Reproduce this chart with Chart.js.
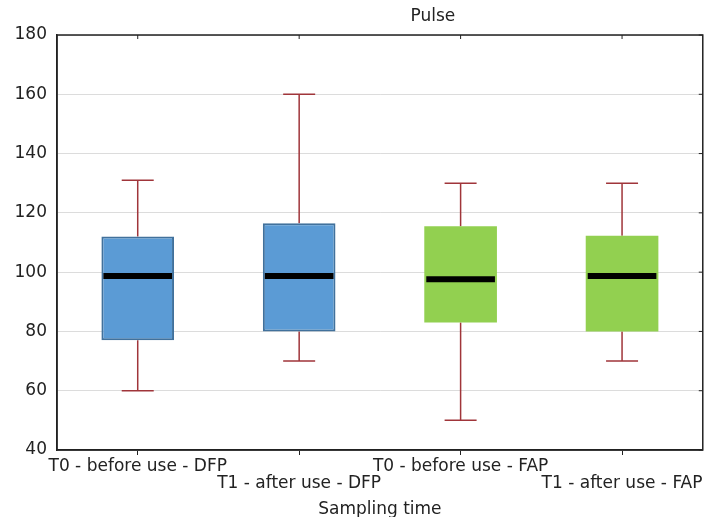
<!DOCTYPE html>
<html>
<head>
<meta charset="utf-8">
<script src="https://cdn.jsdelivr.net/npm/chart.js@4.4.0/dist/chart.umd.min.js"></script>
<style>
  body { margin: 0; background: #fff; }
</style>
</head>
<body>
<canvas id="myChart" width="707" height="517"></canvas>
<script>
'use strict';

const categories = ['T0 - before use - DFP', 'T1 - after use - DFP', 'T0 - before use - FAP', 'T1 - after use - FAP'];
const mins = [60, 70, 50, 70];
const q1s = [77, 80, 83, 80];
const medians = [98.7, 98.7, 97.6, 98.7];
const q3s = [112, 116.5, 115.5, 112.3];
const maxs = [131, 160, 130, 130];
const yTicks = [40, 60, 80, 100, 120, 140, 160, 180];

const boxColors = ['#5b9bd5', '#5b9bd5', '#92d050', '#92d050'];
const boxBorders = ['#41719c', '#41719c', '#92d050', '#92d050'];
const fontFamily = '"DejaVu Sans", sans-serif';

// staggered labels: every second one drops to a second line
let xLabels = categories.map((c, i) => (i % 2 ? ['', c] : c));

const boxPlugin = {
  id: 'boxParts',
  beforeDatasetsDraw(chart) {
    const ctx = chart.ctx;
    const x = chart.scales.x;
    const y = chart.scales.y;
    ctx.save();
    ctx.strokeStyle = '#a0353a';
    ctx.lineWidth = 1.5;
    for (let i = 0; i < categories.length; i++) {
      let cx = x.getPixelForValue(i);
      let half = 16;
      ctx.beginPath();
      ctx.moveTo(cx, y.getPixelForValue(q3s[i]));
      ctx.lineTo(cx, y.getPixelForValue(maxs[i]));
      ctx.moveTo(cx - half, y.getPixelForValue(maxs[i]));
      ctx.lineTo(cx + half, y.getPixelForValue(maxs[i]));
      ctx.moveTo(cx, y.getPixelForValue(q1s[i]));
      ctx.lineTo(cx, y.getPixelForValue(mins[i]));
      ctx.moveTo(cx - half, y.getPixelForValue(mins[i]));
      ctx.lineTo(cx + half, y.getPixelForValue(mins[i]));
      ctx.stroke();
    }
    ctx.restore();
  },
  afterDatasetsDraw(chart) {
    const ctx = chart.ctx;
    const x = chart.scales.x;
    const y = chart.scales.y;
    const area = chart.chartArea;
    const meta = chart.getDatasetMeta(0);
    ctx.save();
    // medians
    ctx.strokeStyle = '#000';
    ctx.lineWidth = 6;
    meta.data.forEach((bar, i) => {
      let w = bar.width / 2 - 2;
      let my = y.getPixelForValue(medians[i]);
      ctx.beginPath();
      ctx.moveTo(bar.x - w, my);
      ctx.lineTo(bar.x + w, my);
      ctx.stroke();
    });
    // frame
    ctx.strokeStyle = '#222';
    ctx.lineWidth = 1.5;
    ctx.strokeRect(area.left, area.top, area.right - area.left, area.bottom - area.top);
    // inner ticks on top and right
    ctx.lineWidth = 1;
    ctx.beginPath();
    for (let i = 0; i < categories.length; i++) {
      let cx = x.getPixelForValue(i);
      ctx.moveTo(cx, area.top);
      ctx.lineTo(cx, area.top + 4);
    }
    yTicks.forEach(v => {
      let ty = y.getPixelForValue(v);
      ctx.moveTo(area.right, ty);
      ctx.lineTo(area.right - 4, ty);
    });
    ctx.stroke();
    // title
    ctx.fillStyle = '#222';
    ctx.font = '17px ' + fontFamily;
    ctx.textAlign = 'center';
    ctx.textBaseline = 'middle';
    ctx.fillText('Pulse', (area.left + area.right) / 2 + 53, 17);
    ctx.restore();
  }
};

const data = {
  labels: xLabels,
  datasets: [{
    label: 'Pulse',
    data: q1s.map((v, i) => [v, q3s[i]]),
    backgroundColor: boxColors,
    borderColor: boxBorders,
    borderWidth: [2, 2, 0, 0],
    borderSkipped: false,
    barPercentage: 0.45,
    categoryPercentage: 1
  }]
};

const config = {
  type: 'bar',
  data: data,
  options: {
    responsive: false,
    animation: false,
    layout: { padding: { top: 35, right: 4, left: 0, bottom: 0 } },
    plugins: {
      legend: { display: false },
      tooltip: { enabled: false }
    },
    scales: {
      x: {
        afterFit(scale) { scale.height = 67; },
        grid: {
          display: true,
          drawOnChartArea: false,
          offset: false,
          tickLength: 5,
          color: '#222'
        },
        border: { display: true, color: '#222', width: 1.5 },
        ticks: {
          autoSkip: false,
          maxRotation: 0,
          padding: 4,
          color: '#222',
          font: { family: fontFamily, size: 17, lineHeight: 0.95 }
        },
        title: {
          display: true,
          text: 'Sampling time',
          color: '#222',
          padding: { top: 0, bottom: 0 },
          font: { family: fontFamily, size: 17, lineHeight: 0.9 }
        }
      },
      y: {
        min: 40,
        max: 180,
        afterFit(scale) { scale.width = 57; },
        afterBuildTicks(scale) { scale.ticks = yTicks.map(v => ({ value: v })); },
        grid: {
          color: '#dcdcdc',
          lineWidth: 1,
          drawTicks: false
        },
        border: { display: true, color: '#222', width: 1.5 },
        ticks: {
          padding: 10,
          color: '#222',
          font: { family: fontFamily, size: 17 }
        }
      }
    }
  },
  plugins: [boxPlugin]
};

let canvasChart = document.getElementById('myChart');
const myChart = new Chart(canvasChart, config);
</script>
</body>
</html>
